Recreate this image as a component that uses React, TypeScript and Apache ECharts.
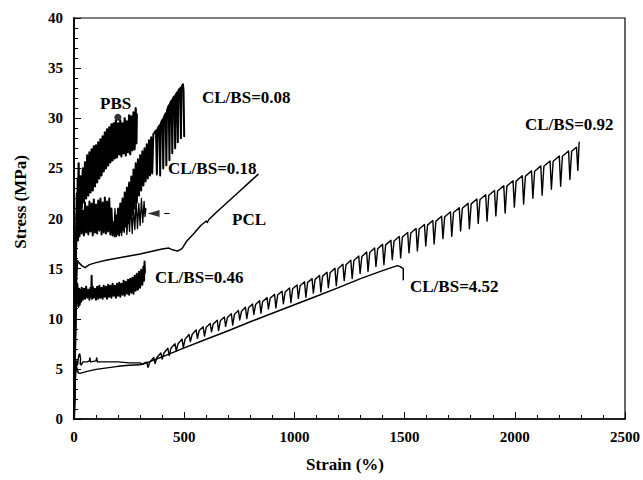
import React, { useEffect, useRef } from "react";
import * as echarts from "echarts";

const xAxisRange = [0, 2500];
const yAxisRange = [0, 40];
const xTickStep = 500;
const yTickStep = 5;

const axisTitles = { x: "Strain (%)", y: "Stress (MPa)" };

const curveLabels = ["PBS", "CL/BS=0.08", "CL/BS=0.18", "PCL", "CL/BS=0.46", "CL/BS=4.52", "CL/BS=0.92"];

const pbsCurve: number[][] = [
  [0, 0], [3, 6], [6, 12], [9, 17], [11, 20], [13, 22.5], [15, 19.5], [17, 24], [19, 21], [21, 25.5], [23, 20.5],
  [25, 20.6], [30, 24.2], [35, 21.0], [40, 25.0], [45, 21.6], [50, 25.6], [55, 22.0], [60, 26.3], [65, 22.3],
  [70, 26.6], [75, 22.6], [80, 26.9], [85, 22.8], [90, 27.2], [95, 23.2], [100, 27.3], [105, 23.6], [110, 27.6],
  [115, 24.0], [120, 27.9], [125, 24.3], [130, 28.2], [135, 24.7], [140, 28.6], [145, 25.0], [150, 28.9],
  [155, 25.3], [160, 29.1], [165, 25.6], [170, 29.4], [175, 25.8], [180, 29.5], [185, 26.0], [190, 29.8],
  [195, 26.1], [200, 29.5], [205, 26.4], [210, 29.8], [215, 26.2], [220, 29.5], [225, 26.5], [230, 30.0],
  [235, 26.3], [240, 29.7], [245, 26.6], [250, 30.3], [255, 26.4], [260, 30.2], [265, 26.8], [270, 30.6],
  [275, 26.9], [280, 31.0], [283, 27.5], [285, 30.4],
];

const cl008Curve: number[][] = [
  [0, 0], [2, 3], [4, 7], [6, 11], [8, 15], [10, 18], [12, 20.5], [14, 18.5], [16, 21.2], [18, 17.8],
  [20, 21.0], [25, 18.2], [30, 21.4], [35, 18.5], [40, 20.8], [45, 18.3], [50, 21.6], [55, 18.6], [60, 21.2],
  [65, 18.4], [70, 21.7], [75, 18.7], [80, 21.5], [85, 18.3], [90, 21.9], [95, 18.6], [100, 21.4], [105, 18.5],
  [110, 21.8], [115, 18.8], [120, 22.0], [125, 18.4], [130, 21.6], [135, 18.6], [140, 22.1], [145, 18.5],
  [150, 21.7], [155, 18.7], [160, 22.0], [165, 18.4], [170, 21.0], [175, 18.3],
  [180, 19.6], [185, 18.2], [190, 20.3], [195, 18.4], [200, 21.0], [205, 18.3], [210, 21.5], [215, 18.6],
  [220, 22.0], [225, 18.8], [230, 22.6], [235, 19.2], [240, 23.1], [245, 19.5], [250, 23.6], [255, 20.0],
  [260, 24.2], [265, 20.4], [270, 24.9], [275, 21.0], [280, 25.5], [285, 21.6], [290, 25.9], [295, 22.3],
  [300, 26.3], [305, 22.8], [310, 26.7], [315, 23.3], [320, 27.0], [325, 23.7], [330, 27.4], [335, 24.0],
  [340, 27.8], [345, 24.3], [350, 28.1], [355, 24.5], [360, 28.4],
  [372, 28.8], [376, 24.4], [380, 29.0], [388, 29.3], [391, 24.3], [394, 29.5], [402, 29.9], [405, 25.0],
  [408, 30.1], [416, 30.5], [419, 25.3], [422, 30.8], [430, 31.3], [433, 25.8], [436, 31.5], [443, 31.8],
  [446, 26.5], [449, 32.0], [456, 32.2], [459, 27.0], [462, 32.4], [468, 32.6], [471, 27.6], [474, 32.8],
  [482, 33.0], [485, 28.0], [488, 33.1], [494, 33.4], [497, 32.8], [500, 28.2],
];

const cl018Curve: number[][] = [
  [180, 18.4], [186, 21.0], [192, 18.2], [198, 20.6], [204, 18.5], [210, 21.2], [216, 18.3], [222, 20.8],
  [228, 18.6], [234, 21.4], [240, 18.4], [246, 20.9], [252, 18.7], [258, 21.5], [264, 18.5], [270, 21.2],
  [276, 18.9], [282, 21.8], [288, 19.0], [294, 21.5], [300, 19.3], [306, 22.0], [312, 19.6], [318, 21.7],
  [322, 20.2], [326, 21.0],
];

const cl046Curve: number[][] = [
  [0, 0], [3, 4], [6, 8], [9, 11], [12, 12.6], [15, 13.5], [18, 12.2], [20, 11.2], [23, 13.0], [26, 11.4],
  [29, 12.9], [32, 11.7], [35, 13.1], [40, 11.9], [45, 13.0], [50, 12.0], [55, 13.2], [60, 12.1], [65, 12.9],
  [70, 11.9], [75, 13.1], [78, 12.2], [80, 14.3], [82, 12.0], [85, 13.2], [90, 12.1], [95, 13.0], [100, 11.9],
  [105, 13.2], [110, 12.0], [115, 13.3], [120, 12.1], [125, 13.1], [130, 12.0], [135, 13.3], [140, 12.2],
  [145, 13.2], [150, 12.0], [155, 13.4], [160, 12.2], [165, 13.3], [170, 12.1], [175, 13.5], [180, 12.3],
  [185, 13.3], [190, 12.1], [195, 13.5], [200, 12.3], [205, 13.6], [210, 12.2], [215, 13.5], [220, 12.4],
  [225, 13.8], [230, 12.3], [235, 13.7], [240, 12.5], [245, 13.9], [250, 12.4], [255, 14.0], [260, 12.6],
  [265, 14.1], [270, 12.5], [275, 14.3], [280, 12.8], [285, 14.5], [290, 12.9], [295, 14.7], [300, 13.1],
  [305, 14.9], [310, 13.4], [315, 15.2], [318, 13.8], [320, 15.7], [322, 14.6],
];

const pclCurve: number[][] = [
  [0, 0], [4, 5], [8, 10], [12, 14], [16, 15.8], [22, 15.6], [35, 15.3], [50, 15.1], [70, 15.4], [100, 15.6],
  [150, 15.85], [200, 16.05], [250, 16.25], [300, 16.45], [350, 16.7], [400, 16.95], [430, 17.05], [450, 16.85],
  [470, 16.75], [490, 17.0], [510, 17.7], [540, 18.4], [575, 19.3], [600, 19.75], [605, 19.6], [612, 19.9],
  [650, 20.7], [700, 21.7], [750, 22.7], [800, 23.7], [835, 24.4],
];

const cl092Curve: number[][] = [
  [0, 0], [4, 3], [8, 5.2], [12, 5.8], [16, 5.4], [19, 5.9], [22, 6.4], [26, 6.5], [30, 6.0], [28, 5.5],
  [33, 5.4], [40, 5.7], [60, 5.7], [70, 5.8], [72, 6.1], [75, 5.7], [100, 5.8], [103, 6.1], [106, 5.7],
  [150, 5.7], [200, 5.7], [250, 5.6], [300, 5.6], [311, 5.45], [320, 5.6],
  [330, 5.67], [336, 5.16], [344, 5.67], [362, 6.13], [368, 5.52], [376, 6.13],
  [394, 6.59], [400, 5.98], [408, 6.59], [426, 7.05], [432, 6.33], [440, 7.05],
  [458, 7.51], [464, 6.79], [472, 7.51], [490, 7.97], [496, 7.15], [504, 7.97],
  [522, 8.43], [528, 7.71], [536, 8.43], [554, 8.89], [560, 8.05], [568, 8.83],
  [586, 9.21], [592, 8.27], [600, 9.15], [618, 9.53], [624, 8.69], [632, 9.48],
  [650, 9.86], [656, 8.82], [664, 9.8], [682, 10.18], [688, 9.24], [696, 10.12],
  [714, 10.5], [720, 9.36], [728, 10.44], [746, 10.82], [752, 9.88], [760, 10.76],
  [778, 11.15], [784, 10.01], [792, 11.09], [810, 11.47], [816, 10.43], [824, 11.41],
  [842, 11.79], [848, 10.55], [856, 11.73], [876, 12.11], [882, 10.97], [890, 12.04],
  [910, 12.43], [916, 11.08], [924, 12.36], [944, 12.74], [950, 11.5], [958, 12.67],
  [978, 13.06], [984, 11.61], [992, 12.99], [1012, 13.37], [1018, 12.03], [1026, 13.3],
  [1046, 13.69], [1052, 12.14], [1060, 13.62], [1080, 14.0], [1086, 12.56], [1094, 13.93],
  [1114, 14.32], [1120, 12.67], [1128, 14.25], [1148, 14.64], [1154, 13.09], [1162, 14.58],
  [1184, 15.03], [1190, 13.29], [1198, 14.99], [1220, 15.43], [1226, 13.8], [1234, 15.39],
  [1256, 15.84], [1262, 14.01], [1270, 15.8], [1292, 16.25], [1298, 14.51], [1306, 16.2],
  [1328, 16.65], [1334, 14.72], [1342, 16.61], [1364, 17.05], [1370, 15.21], [1378, 16.99],
  [1400, 17.42], [1406, 15.38], [1414, 17.37], [1438, 17.82], [1444, 15.88], [1452, 17.76],
  [1476, 18.21], [1482, 16.07], [1490, 18.16], [1514, 18.61], [1520, 16.57], [1528, 18.55],
  [1552, 19.0], [1558, 16.77], [1566, 18.95], [1590, 19.4], [1596, 17.26], [1604, 19.34],
  [1628, 19.8], [1634, 17.46], [1642, 19.74], [1668, 20.22], [1674, 17.99], [1682, 20.17],
  [1708, 20.65], [1714, 18.22], [1722, 20.6], [1748, 21.08], [1754, 18.75], [1762, 21.03],
  [1788, 21.51], [1794, 18.98], [1802, 21.46], [1828, 21.94], [1834, 19.51], [1842, 21.89],
  [1868, 22.37], [1874, 19.74], [1882, 22.32], [1908, 22.8], [1914, 20.26], [1922, 22.75],
  [1950, 23.27], [1956, 20.54], [1964, 23.23], [1992, 23.76], [1998, 21.13], [2006, 23.73],
  [2034, 24.26], [2040, 21.43], [2048, 24.22], [2076, 24.75], [2082, 22.02], [2090, 24.72],
  [2118, 25.25], [2124, 22.32], [2132, 25.21], [2160, 25.74], [2166, 22.91], [2174, 25.71],
  [2202, 26.24], [2208, 23.21], [2216, 26.2], [2244, 26.74], [2250, 23.9], [2258, 26.7],
  [2280, 27.1], [2286, 24.8], [2292, 27.6],
];

const cl452Curve: number[][] = [
  [0, 0], [3, 2], [6, 4], [10, 5.4], [15, 4.9], [20, 4.6], [27, 4.55], [60, 4.75], [100, 4.95], [150, 5.1],
  [200, 5.25], [250, 5.35], [298, 5.4], [311, 5.45], [400, 6.2], [500, 7.1], [600, 7.95], [700, 8.8],
  [800, 9.7], [900, 10.55], [1000, 11.4], [1100, 12.25], [1200, 13.1], [1300, 14.0], [1400, 14.8],
  [1467, 15.3], [1480, 15.2], [1494, 15.0], [1494, 13.9],
];

const pbsMarker: number[][] = [[199, 30.1]];
const arrowHead: number[][] = [[361, 20.5]];
const arrowTail: number[][] = [[411, 20.5], [432, 20.5]];

const FONT = '"Liberation Serif", "Times New Roman", serif';

function lineSeries(name: string, data: number[][], width = 1.3) {
  return {
    name,
    type: "line",
    data,
    showSymbol: false,
    symbol: "none",
    smooth: false,
    lineStyle: { color: "#000", width, join: "round", cap: "round" },
    z: 3,
  };
}

function label(text: string, x: number, y: number) {
  return {
    type: "text",
    x,
    y,
    style: {
      text,
      fill: "#000",
      font: `bold 17px ${FONT}`,
      textAlign: "left",
      textVerticalAlign: "middle",
      align: "left",
      verticalAlign: "middle",
    },
    z: 10,
  };
}

const plainNumber = (v: number) => String(v);

export default function App() {
  const ref = useRef<HTMLDivElement>(null);
  useEffect(() => {
    if (!ref.current) return;
    const chart = echarts.init(ref.current, null, { renderer: "svg" });
    const option: any = {
      animation: false,
      backgroundColor: "#fff",
      grid: { left: 74, top: 18, right: 15, bottom: 61, show: true, borderColor: "#000", borderWidth: 1.2, backgroundColor: "transparent" },
      xAxis: {
        type: "value",
        min: xAxisRange[0],
        max: xAxisRange[1],
        interval: xTickStep,
        axisLine: { show: true, onZero: false, lineStyle: { color: "#000", width: 1.5 } },
        axisTick: { show: true, inside: true, length: 7, lineStyle: { color: "#000", width: 1 } },
        minorTick: { show: true, splitNumber: 5, length: 4, lineStyle: { color: "#000", width: 1 } },
        splitLine: { show: false },
        axisLabel: { color: "#000", fontFamily: FONT, fontWeight: "bold", fontSize: 15, margin: 10, formatter: plainNumber },
      },
      yAxis: {
        type: "value",
        min: yAxisRange[0],
        max: yAxisRange[1],
        interval: yTickStep,
        axisLine: { show: true, onZero: false, lineStyle: { color: "#000", width: 1.8 } },
        axisTick: { show: true, inside: true, length: 7, lineStyle: { color: "#000", width: 1 } },
        minorTick: { show: true, splitNumber: 5, length: 4, lineStyle: { color: "#000", width: 1 } },
        splitLine: { show: false },
        axisLabel: { color: "#000", fontFamily: FONT, fontWeight: "bold", fontSize: 15, margin: 11, formatter: plainNumber },
      },
      series: [
        lineSeries(curveLabels[0], pbsCurve, 2.2),
        lineSeries(curveLabels[1], cl008Curve, 2.0),
        lineSeries(curveLabels[2], cl018Curve, 1.3),
        lineSeries(curveLabels[3], pclCurve, 1.5),
        lineSeries(curveLabels[4], cl046Curve, 2.0),
        lineSeries(curveLabels[5], cl452Curve, 1.5),
        lineSeries(curveLabels[6], cl092Curve, 1.4),
        lineSeries("arrow-tail", arrowTail, 1),
        {
          name: "pbs-marker",
          type: "scatter",
          data: pbsMarker,
          symbol: "circle",
          symbolSize: 7,
          itemStyle: { color: "#000" },
          z: 5,
        },
        {
          name: "arrow-head",
          type: "scatter",
          data: arrowHead,
          symbol: "triangle",
          symbolSize: [7, 12],
          symbolRotate: 90,
          itemStyle: { color: "#000" },
          z: 5,
        },
      ],
      graphic: [
        label(curveLabels[0], 100, 103),
        label(curveLabels[1], 202, 97),
        label(curveLabels[2], 168, 168),
        label(curveLabels[3], 232, 219),
        label(curveLabels[4], 155, 277),
        label(curveLabels[5], 410, 286),
        label(curveLabels[6], 525, 124),
        {
          type: "text",
          x: 345,
          y: 464,
          style: {
            text: axisTitles.x,
            fill: "#000",
            font: `bold 17px ${FONT}`,
            textAlign: "center",
            textVerticalAlign: "middle",
            align: "center",
            verticalAlign: "middle",
          },
        },
        {
          type: "text",
          x: 20,
          y: 202,
          rotation: Math.PI / 2,
          style: {
            text: axisTitles.y,
            fill: "#000",
            font: `bold 17px ${FONT}`,
            textAlign: "center",
            textVerticalAlign: "middle",
            align: "center",
            verticalAlign: "middle",
          },
        },
      ],
    };
    chart.setOption(option);
    return () => chart.dispose();
  }, []);
  return (
    <div
      ref={ref}
      style={{ position: "fixed", left: 0, top: 0, width: 643, height: 480, background: "#fff" }}
    />
  );
}
